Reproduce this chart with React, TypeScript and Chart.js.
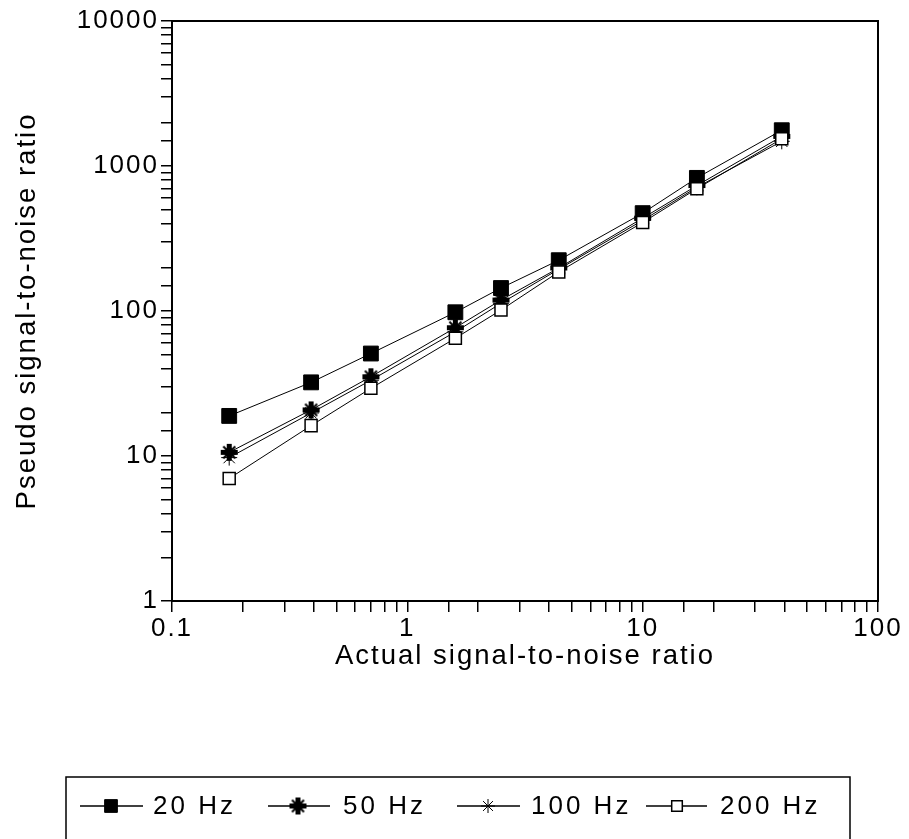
import React, { useEffect, useRef } from 'react';
import { Chart, registerables } from 'chart.js';
import { drawPoint } from 'chart.js/helpers';

Chart.register(...registerables);

// ---- data ----
const actualSNR = [0.175, 0.39, 0.7, 1.6, 2.5, 4.4, 10, 17, 39];
const hz20 = [18.9, 32.2, 50.9, 98, 144, 224, 473, 828, 1765];
const hz50 = [10.6, 20.8, 35.2, 76.7, 119, 198, 437, 733, 1600];
const hz100 = [9.75, 19.8, 33.3, 71.8, 113, 194, 422, 713, 1480];
const hz200 = [7.0, 16.2, 29.3, 64.9, 101.5, 186, 408, 698, 1540];
const seriesLabels = ['20 Hz', '50 Hz', '100 Hz', '200 Hz'];
const xTickLabels = ['0.1', '1', '10', '100'];
const yTickLabels = ['1', '10', '100', '1000', '10000'];
const xTitle = 'Actual signal-to-noise ratio';
const yTitle = 'Pseudo signal-to-noise ratio';

const FONT = '"Liberation Sans", Arial, Helvetica, sans-serif';

function labelFor(labels: string[], v: number): string {
  const hit = labels.find((l) => Math.abs(Number(l) / v - 1) < 1e-6);
  return hit === undefined ? '' : hit;
}

function makePlusMarker(): HTMLCanvasElement {
  const c = document.createElement('canvas');
  c.width = 19;
  c.height = 19;
  const g = c.getContext('2d')!;
  g.fillStyle = '#000';
  g.fillRect(7, 1, 5, 17);
  g.fillRect(1, 7, 17, 5);
  g.strokeStyle = '#000';
  g.lineWidth = 2;
  g.beginPath();
  g.moveTo(3.5, 3.5);
  g.lineTo(15.5, 15.5);
  g.moveTo(15.5, 3.5);
  g.lineTo(3.5, 15.5);
  g.stroke();
  return c;
}

export default function App() {
  const ref = useRef<HTMLCanvasElement | null>(null);

  useEffect(() => {
    const canvas = ref.current;
    if (!canvas) return;
    const plus = makePlusMarker();

    const styles: any[] = [
      { pointStyle: 'rect', radius: 10.5, borderWidth: 1, bg: '#000', legendRadius: 9 },
      { pointStyle: plus, radius: 9, borderWidth: 0, bg: '#000', legendRadius: 9 },
      { pointStyle: 'star', radius: 8, borderWidth: 1, bg: '#000', legendRadius: 7 },
      { pointStyle: 'rect', radius: 8.5, borderWidth: 1.5, bg: '#fff', legendRadius: 7.5 },
    ];
    const seriesValues = [hz20, hz50, hz100, hz200];

    const datasets = seriesValues.map((vals, i) => ({
      label: seriesLabels[i],
      data: vals.map((y, j) => ({ x: actualSNR[j], y })),
      borderColor: '#000',
      borderWidth: 1,
      backgroundColor: styles[i].bg,
      pointBackgroundColor: styles[i].bg,
      pointBorderColor: '#000',
      pointBorderWidth: styles[i].borderWidth,
      pointStyle: styles[i].pointStyle,
      pointRadius: styles[i].radius,
      pointHoverRadius: styles[i].radius,
      tension: 0,
      fill: false,
      order: 3 - i,
    }));

    const legendPos = [
      { l1: 80, l2: 143, m: 111, t: 153 },
      { l1: 268, l2: 330, m: 298, t: 343 },
      { l1: 457, l2: 520, m: 488, t: 531 },
      { l1: 646, l2: 707, m: 677, t: 720 },
    ];

    const framePlugin = {
      id: 'frameAndLegend',
      beforeLayout(chart: any) {
        chart.ctx.letterSpacing = '2px';
      },
      beforeDraw(chart: any) {
        const ctx = chart.ctx;
        ctx.save();
        ctx.fillStyle = '#fff';
        ctx.fillRect(0, 0, chart.width, chart.height);
        ctx.restore();
        ctx.letterSpacing = '2px';
      },
      afterDraw(chart: any) {
        const ctx = chart.ctx;
        const a = chart.chartArea;
        ctx.save();
        ctx.strokeStyle = '#000';
        ctx.lineWidth = 2;
        ctx.strokeRect(a.left, a.top, a.right - a.left, a.bottom - a.top);

        // legend box
        ctx.lineWidth = 1.5;
        ctx.strokeRect(66, 777, 784, 70);
        const y = 806;
        ctx.font = `26px ${FONT}`;
        ctx.letterSpacing = '3px';
        ctx.textBaseline = 'middle';
        ctx.textAlign = 'left';
        seriesLabels.forEach((lab, i) => {
          const p = legendPos[i];
          ctx.strokeStyle = '#000';
          ctx.lineWidth = 1.5;
          ctx.beginPath();
          ctx.moveTo(p.l1, y);
          ctx.lineTo(p.l2, y);
          ctx.stroke();
          ctx.fillStyle = styles[i].bg;
          ctx.strokeStyle = '#000';
          ctx.lineWidth = styles[i].borderWidth;
          drawPoint(ctx, {
            pointStyle: styles[i].pointStyle,
            radius: styles[i].legendRadius,
            borderWidth: styles[i].borderWidth,
            rotation: 0,
          } as any, p.m, y);
          ctx.fillStyle = '#000';
          ctx.fillText(lab, p.t, y + 1);
        });
        ctx.restore();
      },
    };

    Chart.defaults.font.family = FONT;
    Chart.defaults.color = '#000';

    const chart = new Chart(canvas, {
      type: 'line',
      data: { datasets: datasets as any },
      options: {
        animation: false,
        responsive: false,
        devicePixelRatio: 1,
        layout: { padding: { left: 0, top: 21, right: 31, bottom: 166 } },
        plugins: {
          legend: { display: false },
          tooltip: { enabled: false },
        },
        scales: {
          x: {
            type: 'logarithmic',
            min: 0.1,
            max: 100,
            position: 'bottom',
            grid: {
              display: true,
              drawOnChartArea: false,
              drawTicks: true,
              tickLength: 11,
              color: '#000',
              lineWidth: 1.5,
            },
            border: { display: true, color: '#000', width: 2 },
            ticks: {
              autoSkip: false,
              maxRotation: 0,
              minRotation: 0,
              padding: 1,
              color: '#000',
              font: { size: 26, family: FONT },
              callback: (v: any) => labelFor(xTickLabels, Number(v)),
            },
            title: {
              display: true,
              text: xTitle,
              color: '#000',
              font: { size: 27.5, family: FONT },
              padding: { top: 0, bottom: 0 },
            },
            afterFit: (s: any) => {
              s.height = 72;
            },
          },
          y: {
            type: 'logarithmic',
            min: 1,
            max: 10000,
            position: 'left',
            grid: {
              display: true,
              drawOnChartArea: false,
              drawTicks: true,
              tickLength: 11,
              color: '#000',
              lineWidth: 1.5,
            },
            border: { display: true, color: '#000', width: 2 },
            ticks: {
              autoSkip: false,
              padding: 2,
              color: '#000',
              font: { size: 26, family: FONT },
              callback: (v: any) => labelFor(yTickLabels, Number(v)),
            },
            title: {
              display: true,
              text: yTitle,
              color: '#000',
              font: { size: 27.5, family: FONT },
              padding: { top: 11, bottom: 0 },
            },
            afterFit: (s: any) => {
              s.width = 172;
            },
          },
        },
      },
      plugins: [framePlugin],
    });

    return () => chart.destroy();
  }, []);

  return (
    <div style={{ position: 'fixed', left: 0, top: 0, width: 909, height: 839, background: '#fff' }}>
      <canvas ref={ref} width={909} height={839} style={{ display: 'block' }} />
    </div>
  );
}
